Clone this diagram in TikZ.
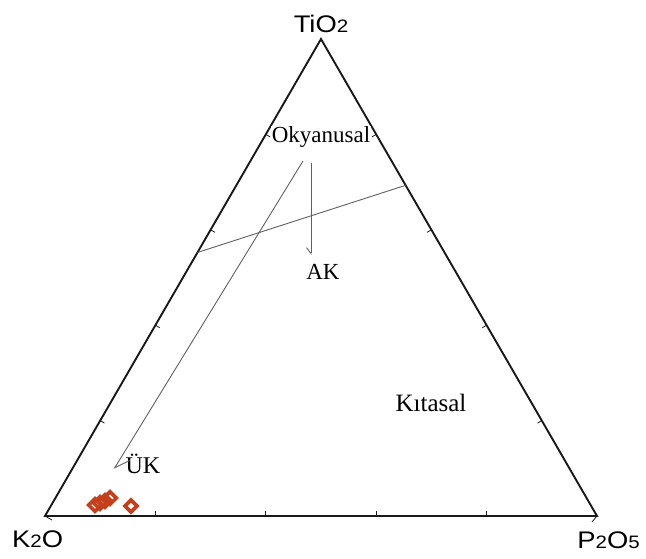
\documentclass[tikz,border=0pt]{standalone}
\usepackage{fontspec}
\setmainfont{Liberation Serif}
\newfontfamily\arialf{Liberation Sans}
\usetikzlibrary{arrows.meta,shapes.geometric,calc}
\definecolor{datared}{RGB}{196,64,28}
\definecolor{axisgray}{RGB}{25,25,25}
\definecolor{linegray}{RGB}{95,95,95}
\tikzset{
  side/.style={line width=1.9pt, draw=axisgray},
  tickmark/.style={line width=0.8pt, draw=axisgray},
  field/.style={line width=0.9pt, draw=linegray},
  fieldlabel/.style={font=\fontsize{23}{23}\selectfont, inner sep=1pt, text=black},
  apexlabel/.style={font=\arialf\fontsize{24}{24}\selectfont, inner sep=0pt, anchor=base},
  samplemark/.style={draw=datared, line width=3.6pt, line join=miter},
}
\newcommand{\chemsub}[1]{{\fontsize{18}{18}\selectfont #1}}
\newcommand{\widelabel}[1]{\scalebox{1.14}[1]{#1}}
\begin{document}
\begin{tikzpicture}[x=1pt,y=-1pt]
\useasboundingbox (0,0) rectangle (646,558);
\coordinate (T) at (321,39);
\coordinate (L) at (45,516);
\coordinate (R) at (597,516);
\draw[side] (T) -- (L) -- (R) -- cycle;
\foreach \f in {0.2,0.4,0.6,0.8}{
  \draw[tickmark] ($(L)!\f!(R)$) -- ++(0,-5);
  \draw[tickmark] ($(L)!\f!(T)$) -- ++(4.3,2.5);
  \draw[tickmark] ($(R)!\f!(T)$) -- ++(-4.3,2.5);
}
\draw[tickmark] (L) -- ++(7,4);
\draw[tickmark] (R) -- ++(-5,6);
\coordinate (bl) at ($(T)!0.4475!(L)$);
\coordinate (br) at ($(T)!0.3067!(R)$);
\draw[field] (bl) -- (br);
\node[fieldlabel, fill=white] (oky) at (321,137) {Okyanusal};
\node[fieldlabel] (ak) at (323,272) {AK};
\node[fieldlabel, font=\fontsize{25}{25}\selectfont] (kit) at (431,403) {Kıtasal};
\node[fieldlabel, font=\fontsize{24}{24}\selectfont] (uk) at (143,464) {ÜK};
\coordinate (o1) at (303,161);
\coordinate (o2) at (311,163);
\coordinate (akt) at (311,255);
\coordinate (ukt) at (114,469);
\draw[field, -{Straight Barb[right, length=6pt, width=9pt]}] (o2) -- (akt);
\draw[field, -{Straight Barb[left, length=14pt, width=18pt]}] (o1) -- (ukt);
\node[apexlabel] (tio) at (321,32) {\widelabel{TiO\chemsub{2}}};
\node[apexlabel, anchor=base west] (k2o) at (12,547) {\widelabel{K\chemsub{2}O}};
\node[apexlabel, anchor=base east] (p2o5) at (640,548) {\widelabel{P\chemsub{2}O\chemsub{5}}};
\foreach \p in {(95,505),(100,503),(105,501),(110,498)}
  \draw[samplemark] \p ++(-6.3,0) -- ++(6.3,-6.3) -- ++(6.3,6.3) -- ++(-6.3,6.3) -- cycle;
\draw[samplemark, fill=white] (131,506) ++(-6,0) -- ++(6,-6) -- ++(6,6) -- ++(-6,6) -- cycle;
\end{tikzpicture}
\end{document}
